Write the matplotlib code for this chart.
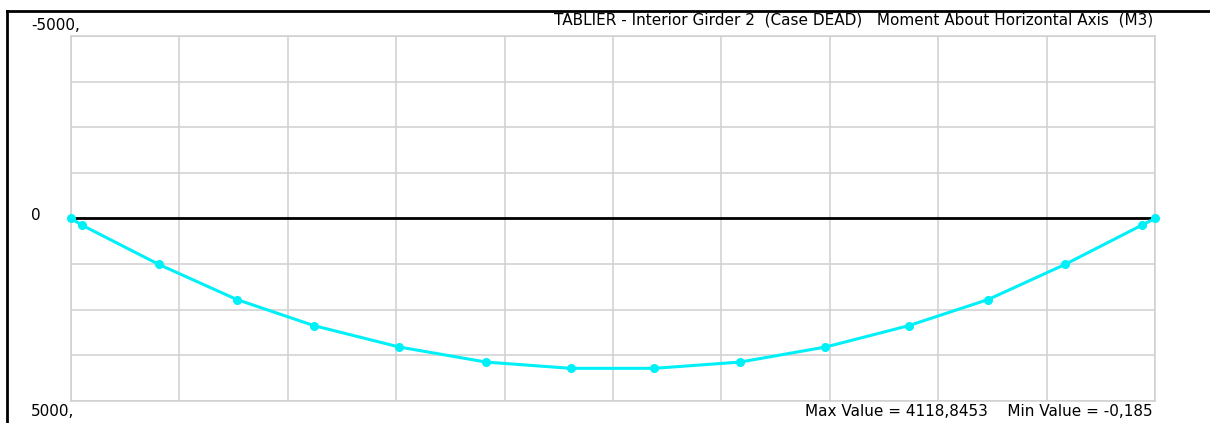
import matplotlib
matplotlib.use("Agg")
import matplotlib.pyplot as plt
from matplotlib.lines import Line2D

# stations along girder (grid units) and moment M3 values
station = [0.0, 0.10, 0.81, 1.53, 2.24, 3.03, 3.83, 4.61, 5.38, 6.17, 6.96, 7.73, 8.46, 9.17, 9.88, 10.0]
moment = [-0.185, 180, 1258, 2220, 2934, 3522, 3934, 4105, 4105, 3934, 3522, 2934, 2220, 1258, 180, -0.185]

title = "TABLIER - Interior Girder 2  (Case DEAD)   Moment About Horizontal Axis  (M3)"
max_text = "Max Value = 4118,8453    Min Value = -0,185"
y_labels = ["-5000,", "0", "5000,"]

W, H = 1210, 423
fig = plt.figure(figsize=(W / 100, H / 100), dpi=100)
fig.patch.set_facecolor("white")

ax = fig.add_axes([71 / W, 1 - 401 / H, (1155 - 71) / W, (401 - 36) / H])
ax.set_xlim(0, 10)
ax.set_ylim(5000, -5000)
ax.set_xticks(range(0, 11))
ax.set_yticks(range(-5000, 5001, 1250))
ax.grid(True, color="#d0d0d0", linewidth=1.1)
ax.tick_params(length=0, labelbottom=False, labelleft=False)
for s in ax.spines.values():
    s.set_color("#d0d0d0")
    s.set_linewidth(1.1)

ax.plot([0, 9.95], [0, 0], color="black", linewidth=2.0, zorder=3)
ax.plot(station, moment, color="#00f0f8", linewidth=2.2, marker="o",
        markersize=5.5, zorder=4, clip_on=False)

# window frame (top and left edges)
fig.add_artist(Line2D([6.5 / W, 1.0], [1 - 11 / H, 1 - 11 / H], color="black", linewidth=2.0))
fig.add_artist(Line2D([6.5 / W, 6.5 / W], [0, 1 - 11 / H], color="black", linewidth=2.0))

font = dict(family="DejaVu Sans", fontsize=11, color="black")
fig.text(31 / W, 1 - 26 / H, y_labels[0], ha="left", va="center", **font)
fig.text(31 / W, 1 - 216 / H, y_labels[1], ha="left", va="center", **font)
fig.text(31 / W, 1 - 411 / H, y_labels[2], ha="left", va="center", **font)
fig.text(1153 / W, 1 - 20 / H, title, ha="right", va="center", **font)
fig.text(1153 / W, 1 - 411 / H, max_text, ha="right", va="center", **font)

fig.savefig("out.png", dpi=100)
